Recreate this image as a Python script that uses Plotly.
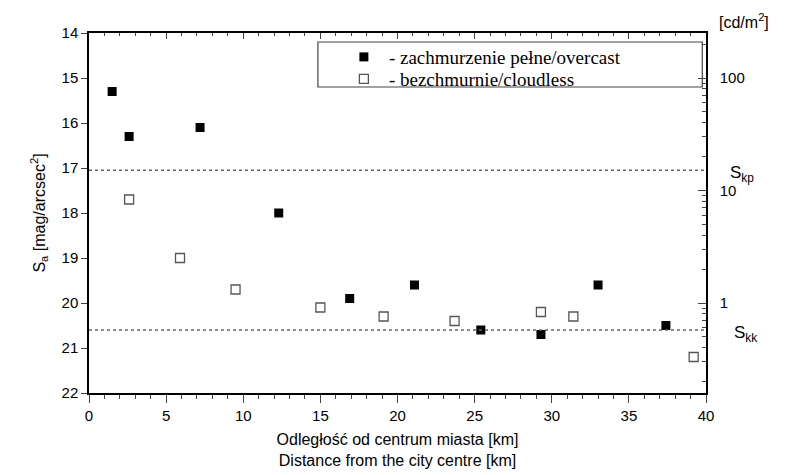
import plotly.graph_objects as go

# Data
overcast_km = [1.5, 2.6, 7.2, 12.3, 16.9, 21.1, 25.4, 29.3, 33.0, 37.4]
overcast_sa = [15.3, 16.3, 16.1, 18.0, 19.9, 19.6, 20.6, 20.7, 19.6, 20.5]
cloudless_km = [2.6, 5.9, 9.5, 15.0, 19.1, 23.7, 29.3, 31.4, 39.2]
cloudless_sa = [17.7, 19.0, 19.7, 20.1, 20.3, 20.4, 20.2, 20.3, 21.2]
s_kp = 17.05
s_kk = 20.6
right_ticks = [1, 10, 100]
right_minor = [0.2, 0.3, 0.4, 0.5, 0.6, 0.7, 0.8, 0.9,
               2, 3, 4, 5, 6, 7, 8, 9, 20, 30, 40, 50, 60, 70, 80, 90, 200]

fig = go.Figure()
fig.add_trace(go.Scatter(
    x=overcast_km, y=overcast_sa, mode="markers",
    name="- zachmurzenie pełne/overcast", legend="legend",
    marker=dict(symbol="square", size=9, color="black", line=dict(width=0)),
))
fig.add_trace(go.Scatter(
    x=cloudless_km, y=cloudless_sa, mode="markers",
    name="- bezchmurnie/cloudless", legend="legend2",
    marker=dict(symbol="square-open", size=9, color="#555555", line=dict(width=1.3)),
))
# empty traces so the right (log) axis and the top axis are drawn
fig.add_trace(go.Scatter(x=[], y=[], yaxis="y2", showlegend=False, hoverinfo="skip"))
fig.add_trace(go.Scatter(x=[], y=[], xaxis="x2", showlegend=False, hoverinfo="skip"))

for v in [s_kp, s_kk]:
    fig.add_shape(type="line", xref="paper", x0=0, x1=1, yref="y", y0=v, y1=v,
                  line=dict(color="#666666", width=1.5, dash="dot"))

# legend box
fig.add_shape(type="rect", xref="paper", yref="paper", x0=0.371, x1=0.994, y0=0.85, y1=0.975,
              line=dict(color="#444444", width=1.2), fillcolor="rgba(0,0,0,0)")

axis_font = dict(family="Liberation Sans, Arial", size=15, color="black")
legend_font = dict(family="Liberation Serif, Times New Roman", size=19, color="black")

fig.update_layout(
    width=780, height=467,
    margin=dict(l=81, r=82, t=25, b=82),
    plot_bgcolor="white", paper_bgcolor="white",
    showlegend=True,
    legend=dict(x=0.405, y=0.986, xanchor="left", yanchor="top",
                bgcolor="rgba(0,0,0,0)", borderwidth=0, font=legend_font,
                itemwidth=40, tracegroupgap=0),
    legend2=dict(x=0.405, y=0.925, xanchor="left", yanchor="top",
                 bgcolor="rgba(0,0,0,0)", borderwidth=0, font=legend_font,
                 itemwidth=40, tracegroupgap=0),
    xaxis=dict(range=[0, 40], dtick=5, tick0=0, ticks="outside", ticklen=8, tickwidth=1.3,
               minor=dict(dtick=1, ticks="outside", ticklen=4, tickwidth=1.2),
               showline=True, linecolor="black", linewidth=1.5,
               showgrid=False, zeroline=False, tickfont=axis_font, automargin=False,
               title=dict(text="Odległość od centrum miasta [km]<br>Distance from the city centre [km]",
                          font=dict(family="Liberation Sans, Arial", size=16, color="black"),
                          standoff=11)),
    xaxis2=dict(range=[0, 40], dtick=5, tick0=0, overlaying="x", side="top",
                ticks="inside", ticklen=6, tickwidth=1.3,
                minor=dict(dtick=1, ticks="inside", ticklen=3, tickwidth=1.2),
                showline=True, linecolor="black", linewidth=1.5, showticklabels=False,
                showgrid=False, zeroline=False, automargin=False),
    yaxis=dict(range=[22, 14], dtick=1, ticks="outside", ticklen=6, tickwidth=1.3,
               showline=True, linecolor="black", linewidth=1.5,
               showgrid=False, zeroline=False, tickfont=axis_font, automargin=False,
               title=dict(text="S<sub>a</sub> [mag/arcsec<sup>2</sup>]",
                          font=dict(family="Liberation Sans, Arial", size=16, color="black"),
                          standoff=12)),
    yaxis2=dict(type="log", range=[-0.8, 2.4], overlaying="y", side="right",
                tickvals=right_ticks, ticktext=[str(t) for t in right_ticks],
                ticks="inside", ticklen=8, tickwidth=1.3,
                minor=dict(tickvals=right_minor, ticks="inside", ticklen=4, tickwidth=1.2),
                showline=True, linecolor="black", linewidth=1.5, automargin=False,
                showgrid=False, zeroline=False, tickfont=axis_font, ticklabelstandoff=9),
)

fig.add_annotation(text="[cd/m<sup>2</sup>]", xref="paper", yref="paper", x=1.018, y=1.0,
                   xanchor="left", yanchor="bottom", showarrow=False,
                   font=dict(family="Liberation Sans, Arial", size=16, color="black"))
fig.add_annotation(text="S<sub>kp</sub>", xref="paper", yref="y", x=1.035, y=s_kp,
                   xanchor="left", yanchor="middle", yshift=-4, showarrow=False,
                   font=dict(family="Liberation Sans, Arial", size=17, color="black"))
fig.add_annotation(text="S<sub>kk</sub>", xref="paper", yref="y", x=1.042, y=s_kk,
                   xanchor="left", yanchor="middle", yshift=-4, showarrow=False,
                   font=dict(family="Liberation Sans, Arial", size=17, color="black"))

fig.write_html("out.html")
